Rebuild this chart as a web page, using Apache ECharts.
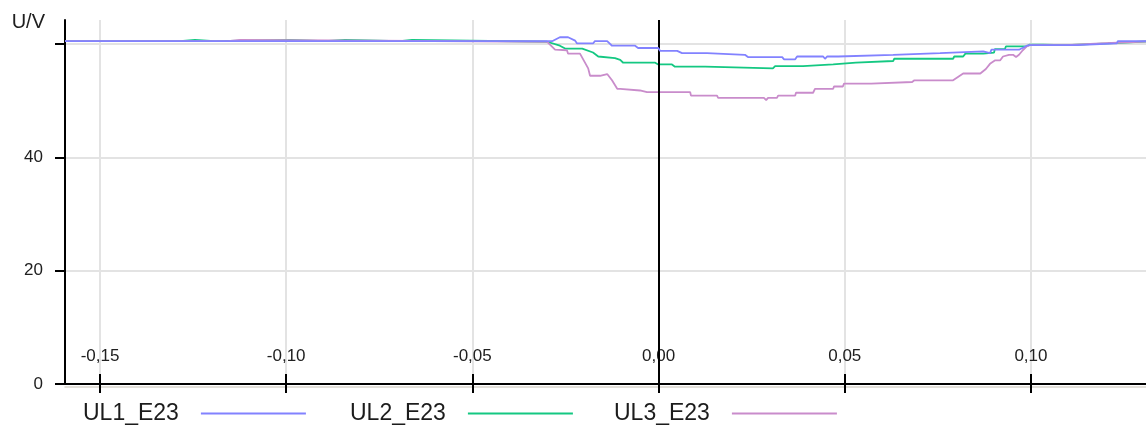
<!DOCTYPE html>
<html>
<head>
<meta charset="utf-8">
<script src="https://cdn.jsdelivr.net/npm/echarts@6/dist/echarts.min.js"></script>
<style>
  html, body { margin: 0; padding: 0; background: #ffffff; }
  #chart { width: 1146px; height: 428px; }
</style>
</head>
<body>
<div id="chart"></div>
<script>
// Axis ticks and labels
const xTicks = [-0.15, -0.10, -0.05, 0.00, 0.05, 0.10];
const yTicks = [0, 20, 40, 60];
const yLabelValues = [0, 20, 40];
const seriesNames = ['UL1_E23', 'UL2_E23', 'UL3_E23'];

// Voltage traces, [time, U/V]
const ul1 = [
  [-0.1594, 60.5], [-0.0286, 60.5], [-0.0265, 61.2], [-0.0243, 61.2], [-0.0224, 60.6],
  [-0.0219, 60.1], [-0.0176, 60.1], [-0.0171, 60.5], [-0.0138, 60.5], [-0.0125, 59.7],
  [-0.0063, 59.7], [-0.0055, 59.3], [-0.0001, 59.3], [0.0004, 58.8], [0.0050, 58.8],
  [0.0063, 58.4], [0.0130, 58.4], [0.0133, 58.1], [0.0232, 58.1], [0.0240, 57.7],
  [0.0332, 57.7], [0.0337, 57.3], [0.0367, 57.3], [0.0372, 57.8], [0.0442, 57.8],
  [0.0447, 57.4], [0.0453, 57.8], [0.0482, 57.8], [0.0485, 58.1], [0.0630, 58.1],
  [0.0633, 58.4], [0.0756, 58.4], [0.0761, 58.7], [0.0872, 58.7], [0.0877, 58.4],
  [0.0890, 58.4], [0.0894, 59.0], [0.0968, 59.0], [0.0989, 59.7], [0.0997, 59.8],
  [0.1124, 59.8], [0.1127, 60.1], [0.1231, 60.1], [0.1233, 60.5], [0.1309, 60.5]
];
const ul2 = [
  [-0.1594, 60.5], [-0.1285, 60.5], [-0.1283, 60.75], [-0.1245, 60.75], [-0.1243, 60.5],
  [-0.1193, 60.5], [-0.1191, 60.75], [-0.0990, 60.75], [-0.0988, 60.5], [-0.0896, 60.5],
  [-0.0894, 60.75], [-0.0842, 60.75], [-0.0840, 60.5], [-0.0694, 60.5], [-0.0692, 60.75],
  [-0.0662, 60.75], [-0.0660, 60.5], [-0.0299, 60.4], [-0.0265, 59.7], [-0.0251, 59.2],
  [-0.0205, 59.2], [-0.0176, 58.5], [-0.0162, 57.8], [-0.0157, 57.5], [-0.0117, 57.5],
  [-0.0103, 57.2], [-0.0095, 56.7], [-0.0009, 56.7], [-0.0001, 56.4], [0.0036, 56.4],
  [0.0044, 56.0], [0.0125, 56.0], [0.0130, 55.7], [0.0307, 55.7], [0.0313, 56.1],
  [0.0388, 56.1], [0.0391, 56.4], [0.0469, 56.4], [0.0471, 56.7], [0.0530, 56.7],
  [0.0533, 57.0], [0.0630, 57.0], [0.0633, 57.4], [0.0791, 57.4], [0.0794, 57.8],
  [0.0818, 57.8], [0.0824, 58.3], [0.0872, 58.3], [0.0877, 58.5], [0.0901, 58.5],
  [0.0903, 59.1], [0.0930, 59.1], [0.0933, 59.6], [0.0989, 59.6], [0.0997, 59.9],
  [0.1032, 59.9], [0.1035, 59.8], [0.1094, 59.8], [0.1097, 60.1], [0.1207, 60.1],
  [0.1210, 60.45], [0.1309, 60.45]
];
const ul3 = [
  [-0.1594, 60.5], [-0.1156, 60.5], [-0.1154, 60.75], [-0.1124, 60.75], [-0.1122, 60.5],
  [-0.0299, 60.4], [-0.0278, 59.0], [-0.0246, 58.9], [-0.0243, 58.3], [-0.0211, 58.3],
  [-0.0189, 55.7], [-0.0184, 54.4], [-0.0157, 54.4], [-0.0152, 54.7], [-0.0138, 54.7],
  [-0.0125, 53.6], [-0.0111, 52.1], [-0.0103, 52.1], [-0.0098, 51.8], [-0.0050, 51.8],
  [-0.0031, 51.5], [0.0085, 51.5], [0.0087, 50.9], [0.0157, 50.9], [0.0160, 50.5],
  [0.0283, 50.5], [0.0289, 50.1], [0.0294, 50.5], [0.0318, 50.5], [0.0321, 50.9],
  [0.0367, 50.9], [0.0369, 51.4], [0.0415, 51.4], [0.0420, 52.1], [0.0469, 52.1],
  [0.0471, 52.5], [0.0495, 52.5], [0.0498, 53.0], [0.0571, 53.0], [0.0573, 53.3],
  [0.0681, 53.3], [0.0687, 53.6], [0.0791, 53.6], [0.0818, 54.8], [0.0864, 54.8],
  [0.0879, 55.6], [0.0890, 56.5], [0.0903, 57.1], [0.0917, 57.1], [0.0925, 57.8],
  [0.0941, 58.1], [0.0952, 58.1], [0.0960, 57.7], [0.0968, 58.1], [0.0978, 58.9],
  [0.0989, 59.6], [0.0997, 59.8], [0.1046, 59.8], [0.1051, 59.6], [0.1057, 59.8],
  [0.1094, 59.8], [0.1097, 60.1], [0.1186, 60.1], [0.1188, 60.45], [0.1309, 60.45]
];

const X_MIN = -0.1594, X_MAX = 0.1309;
const Y_MIN = 0, Y_MAX = 64.24;

const FONT = '"Liberation Sans", Arial, sans-serif';
const colors = ['#8282ff', '#14c882', '#c98ccb'];
const fmtX = v => v.toFixed(2).replace('.', ',');

const chart = echarts.init(document.getElementById('chart'), null, { renderer: 'canvas' });

const axisText = { fontFamily: FONT, fontSize: 17, color: '#202020' };
const blackLine = { color: '#000000', width: 2 };
const gridLine = { color: '#e3e3e3', width: 2 };

const series = [ul1, ul2, ul3].map((d, i) => ({
  name: seriesNames[i],
  type: 'line',
  data: d,
  symbol: 'none',
  color: colors[i],
  lineStyle: { color: colors[i], width: 1.8 },
  z: [5, 3, 4][i],
  silent: true,
  clip: true
}));

// vertical reference line at t = 0
series[0].markLine = {
  silent: true,
  symbol: ['none', 'none'],
  label: { show: false },
  lineStyle: { color: '#000000', width: 2, type: 'solid' },
  emphasis: { disabled: true },
  data: [{ xAxis: 0 }]
};

const legendLeft = [83, 350, 614];

chart.setOption({
  animation: false,
  backgroundColor: '#ffffff',
  grid: { left: 65, right: 0, top: 20, bottom: 44, containLabel: false },
  xAxis: [
    {
      type: 'value', min: X_MIN, max: X_MAX, position: 'bottom',
      axisLine: { show: true, lineStyle: blackLine },
      axisTick: { show: true, inside: false, length: 9, customValues: xTicks, lineStyle: blackLine },
      axisLabel: { inside: true, margin: 19, customValues: xTicks, formatter: fmtX, ...axisText },
      splitLine: { show: true, lineStyle: gridLine }
    },
    {
      type: 'value', min: X_MIN, max: X_MAX, position: 'bottom',
      axisLine: { show: false },
      axisTick: { show: true, inside: true, length: 10, customValues: xTicks, lineStyle: blackLine },
      axisLabel: { show: false },
      splitLine: { show: false }
    },
    {
      // pale shadow line just under the time axis
      type: 'value', min: X_MIN, max: X_MAX, position: 'bottom', offset: 3,
      axisLine: { show: true, lineStyle: { color: '#d9d5cd', width: 1.5 } },
      axisTick: { show: false },
      axisLabel: { show: false },
      splitLine: { show: false }
    }
  ],
  yAxis: {
    type: 'value', min: Y_MIN, max: Y_MAX,
    name: 'U/V', nameLocation: 'end', nameGap: -2,
    nameTextStyle: {
      fontFamily: FONT, fontSize: 20, color: '#202020',
      align: 'right', verticalAlign: 'middle', padding: [0, 20, 0, 0]
    },
    axisLine: { show: true, onZero: false, lineStyle: blackLine },
    axisTick: { show: true, length: 10, customValues: yTicks, lineStyle: blackLine },
    axisLabel: { margin: 22, customValues: yLabelValues, ...axisText },
    splitLine: { show: true, lineStyle: gridLine }
  },
  legend: seriesNames.map((n, i) => ({
    data: [n],
    left: legendLeft[i],
    top: 402,
    padding: 0,
    align: 'right',
    icon: 'rect',
    itemWidth: 105,
    itemHeight: 2,
    selectedMode: false,
    textStyle: { fontFamily: FONT, fontSize: 23, color: '#1c1c1c', padding: [0, 17, 0, 0] }
  })),
  series: series
});
</script>
</body>
</html>
